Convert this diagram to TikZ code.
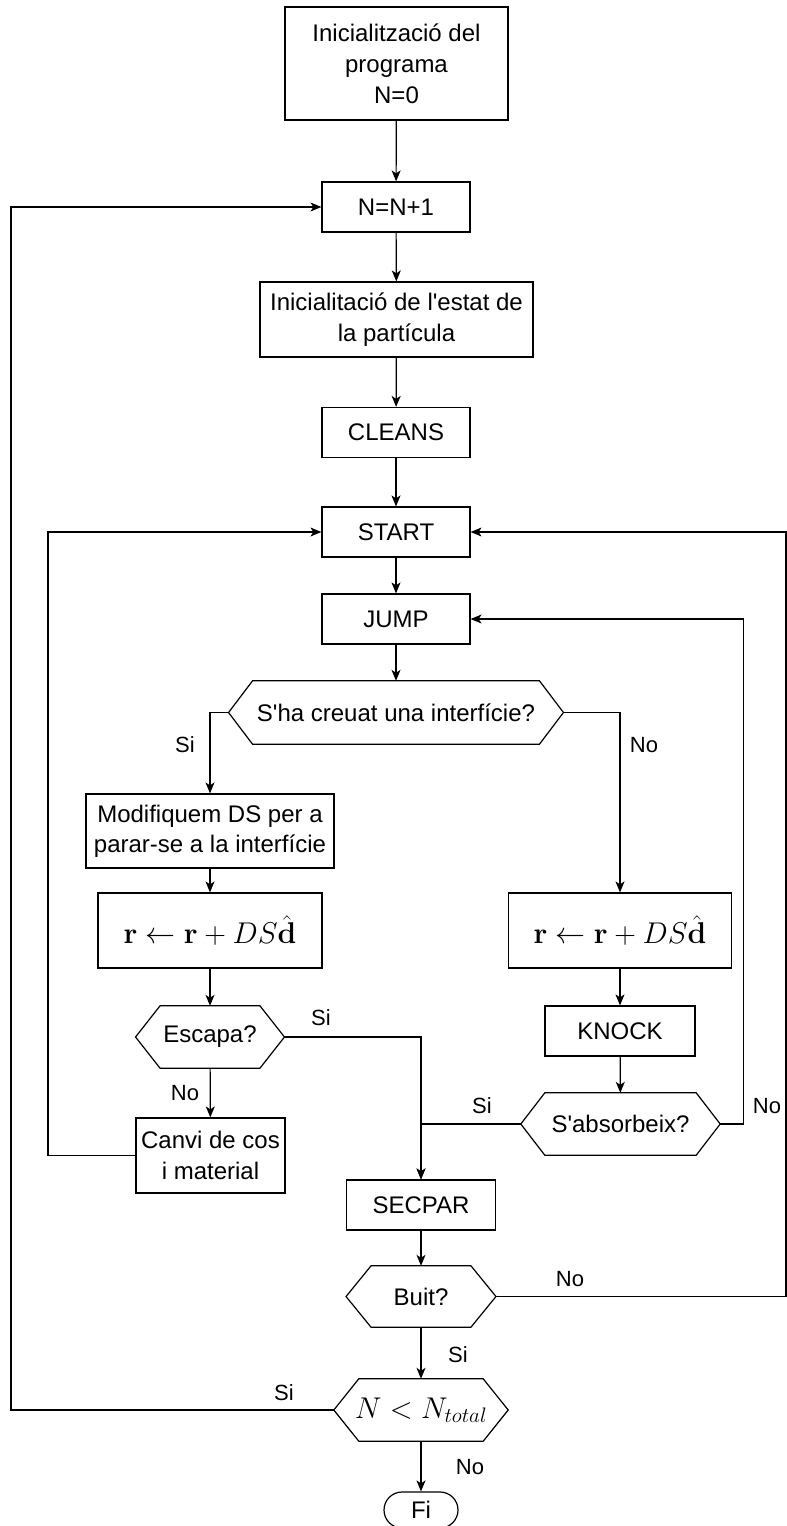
\documentclass[tikz,border=0pt]{standalone}
\usepackage{fix-cm}
\usepackage{amsmath}
\usepackage[no-math]{fontspec}
\setmainfont{Liberation Sans}
\usetikzlibrary{arrows.meta,shapes.misc}

\newcommand\flowfont{\fontsize{24}{31}\selectfont}
\newcommand\labfont{\fontsize{22}{26}\selectfont}
\newcommand\mathfont{\fontsize{30}{36}\selectfont}
\newcommand\apos{\textquotesingle}

% hexagonal decision outline around a (borderless) rectangular node
\newcommand\hexoutline[2]{%
  \draw[edge] (#1.west) -- ([xshift=#2]#1.north west) -- ([xshift=-#2]#1.north east)
    -- (#1.east) -- ([xshift=-#2]#1.south east) -- ([xshift=#2]#1.south west) -- cycle;}

\begin{document}
\begin{tikzpicture}[x=1pt,y=-1pt,
  edge/.style={line width=1.2pt, draw=black},
  arr/.style={edge, -{Stealth[length=11pt,width=9pt,inset=3pt]}},
  box/.style={draw, rectangle, line width=1.2pt, align=center, inner sep=0pt, font=\flowfont},
  decision/.style={rectangle, align=center, inner sep=0pt, minimum height=62pt, font=\flowfont},
  lab/.style={inner sep=0pt, font=\labfont}]
\useasboundingbox (0,0) rectangle (787,1526);

% main column
\node[box, minimum width=223pt, minimum height=113pt] (init) at (396.5,63.5)
  {Inicialització del\\programa\\N=0};
\node[box, minimum width=148pt, minimum height=50pt] (nplus) at (396,207) {N=N+1};
\node[box, minimum width=273pt, minimum height=75pt] (state) at (396.5,319.5)
  {Inicialitació de l\apos estat de\\la partícula};
\node[box, minimum width=148pt, minimum height=50pt] (cleans) at (396,432.5) {CLEANS};
\node[box, minimum width=148pt, minimum height=50pt] (start) at (396,532) {START};
\node[box, minimum width=148pt, minimum height=50pt] (jump) at (396,619) {JUMP};
\node[decision, minimum width=334.5pt, minimum height=63pt] (cross) at (396,712.5)
  {S\apos ha creuat una interfície?};

% interface branch (left)
\node[box, minimum width=248pt, minimum height=74pt, font=\fontsize{24}{30}\selectfont] (modif) at (210,831)
  {Modifiquem DS per a\\parar-se a la interfície};
\node[box, minimum width=224pt, minimum height=75pt, font=\mathfont] (rleft) at (210,930.5)
  {$\mathbf{r}\leftarrow\mathbf{r}+DS\hat{\mathbf{d}}$};
\node[decision, minimum width=148.5pt] (escapa) at (210,1037) {Escapa?};
\node[box, minimum width=149pt, minimum height=75pt] (canvi) at (210.5,1155.5)
  {Canvi de cos\\i material};

% collision branch (right)
\node[box, minimum width=223pt, minimum height=75pt, font=\mathfont] (rright) at (620,930.5)
  {$\mathbf{r}\leftarrow\mathbf{r}+DS\hat{\mathbf{d}}$};
\node[box, minimum width=150pt, minimum height=50pt] (knock) at (620,1031) {KNOCK};
\node[decision, minimum width=199pt] (absorb) at (620.5,1124) {S\apos absorbeix?};

% secondary particles and end
\node[box, minimum width=149.5pt, minimum height=50pt] (secpar) at (421,1205) {SECPAR};
\node[decision, minimum width=149.5pt, minimum height=61pt] (buit) at (421,1296.5) {Buit?};
\node[decision, minimum width=174pt, font=\mathfont] (ntot) at (421,1410) {$N<N_{total}$};
\node[draw, rounded rectangle, line width=1.2pt, minimum width=74pt, minimum height=36pt,
  inner sep=0pt, font=\flowfont] (fi) at (421,1510) {Fi};

\hexoutline{cross}{24pt}
\hexoutline{escapa}{24.5pt}
\hexoutline{absorb}{24pt}
\hexoutline{buit}{25pt}
\hexoutline{ntot}{25pt}

% routing columns for the loops
\coordinate (outer) at (11,0);
\coordinate (inner) at (48,0);
\coordinate (rjump) at (743.5,0);
\coordinate (rstart) at (786,0);

% straight connectors
\draw[arr] (init) -- (nplus);
\draw[arr] (nplus) -- (state);
\draw[arr] (state) -- (cleans);
\draw[arr] (cleans) -- (start);
\draw[arr] (start) -- (jump);
\draw[arr] (jump) -- (cross);
\draw[arr] (modif) -- (rleft);
\draw[arr] (rleft) -- (escapa);
\draw[arr] (escapa) -- (canvi);
\draw[arr] (rright) -- (knock);
\draw[arr] (knock) -- (absorb);
\draw[arr] (secpar) -- (buit);
\draw[arr] (buit) -- (ntot);
\draw[arr] (ntot) -- (fi);

% branches
\draw[arr] (cross.west) -| (modif.north);
\draw[arr] (cross.east) -| (rright.north);
\draw[arr] (escapa.east) -| (secpar.north);
\draw[arr] (absorb.west) -| (secpar.north);

% loops
\draw[arr] (canvi.west) -- (canvi.west -| inner) |- (start.west);
\draw[arr] (absorb.east) -- (absorb.east -| rjump) |- (jump.east);
\draw[arr] (buit.east) -- (buit.east -| rstart) |- (start.east);
\draw[arr] (ntot.west) -- (ntot.west -| outer) |- (nplus.west);

% branch labels
\node[lab] (l1) at (185,745) {Si};
\node[lab] (l2) at (644,745) {No};
\node[lab] (l3) at (321,1018) {Si};
\node[lab] (l4) at (185,1093) {No};
\node[lab] (l5) at (482,1106) {Si};
\node[lab] (l6) at (767,1106) {No};
\node[lab] (l7) at (570,1279) {No};
\node[lab] (l8) at (458,1355) {Si};
\node[lab] (l9) at (284,1393) {Si};
\node[lab] (l10) at (470,1467) {No};
\end{tikzpicture}
\end{document}
